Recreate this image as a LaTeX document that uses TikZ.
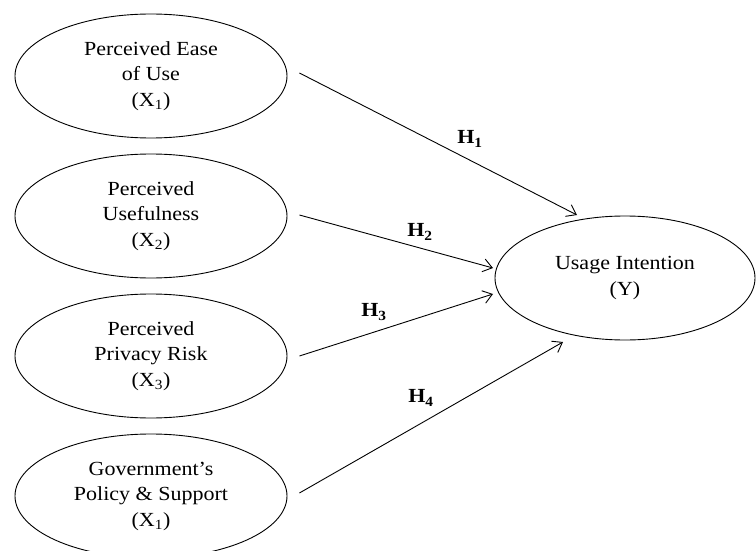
\documentclass[tikz,border=0pt]{standalone}
\usepackage{fontspec}
\setmainfont[FakeStretch=1.1]{Liberation Serif}
\usetikzlibrary{shapes.geometric,arrows.meta}
\begin{document}
\begin{tikzpicture}[x=1pt,y=-1pt,
  var/.style={draw, line width=0.9pt, ellipse, minimum width=272pt, minimum height=124pt, inner sep=0pt, align=center, font=\fontsize{20}{25.5}\selectfont},
  dep/.style={var, minimum width=260pt},
  arr/.style={draw, line width=0.9pt, -{Straight Barb[length=9pt,width=13pt,line width=0.9pt]}},
  hlab/.style={font=\fontsize{20}{24}\selectfont\bfseries}]
\useasboundingbox (0,0) rectangle (756,551);
\clip (0,0) rectangle (756,551);
\node[var] (x1) at (151,76) {Perceived Ease\\of Use\\(X\textsubscript{1})};
\node[var] (x2) at (151,216) {Perceived\\Usefulness\\(X\textsubscript{2})};
\node[var] (x3) at (151,356) {Perceived\\Privacy Risk\\(X\textsubscript{3})};
\node[var] (x4) at (151,496) {Government's\\Policy \& Support\\(X\textsubscript{1})};
\node[dep] (y) at (625,278) {Usage Intention\\(Y)};
\coordinate (e1) at (577,215);
\coordinate (e2) at (493,268);
\coordinate (e3) at (493,294);
\coordinate (e4) at (563,342);
\draw[arr] ([xshift=12pt,yshift=3pt]x1.east) -- (e1);
\draw[arr] ([xshift=12pt,yshift=1pt]x2.east) -- (e2);
\draw[arr] ([xshift=12pt]x3.east) -- (e3);
\draw[arr] ([xshift=12pt,yshift=3pt]x4.east) -- (e4);
\node[hlab] (h1) at (470,139) {H\textsubscript{1}};
\node[hlab] (h2) at (420,232) {H\textsubscript{2}};
\node[hlab] (h3) at (374,312) {H\textsubscript{3}};
\node[hlab] (h4) at (421,398) {H\textsubscript{4}};
\end{tikzpicture}
\end{document}
